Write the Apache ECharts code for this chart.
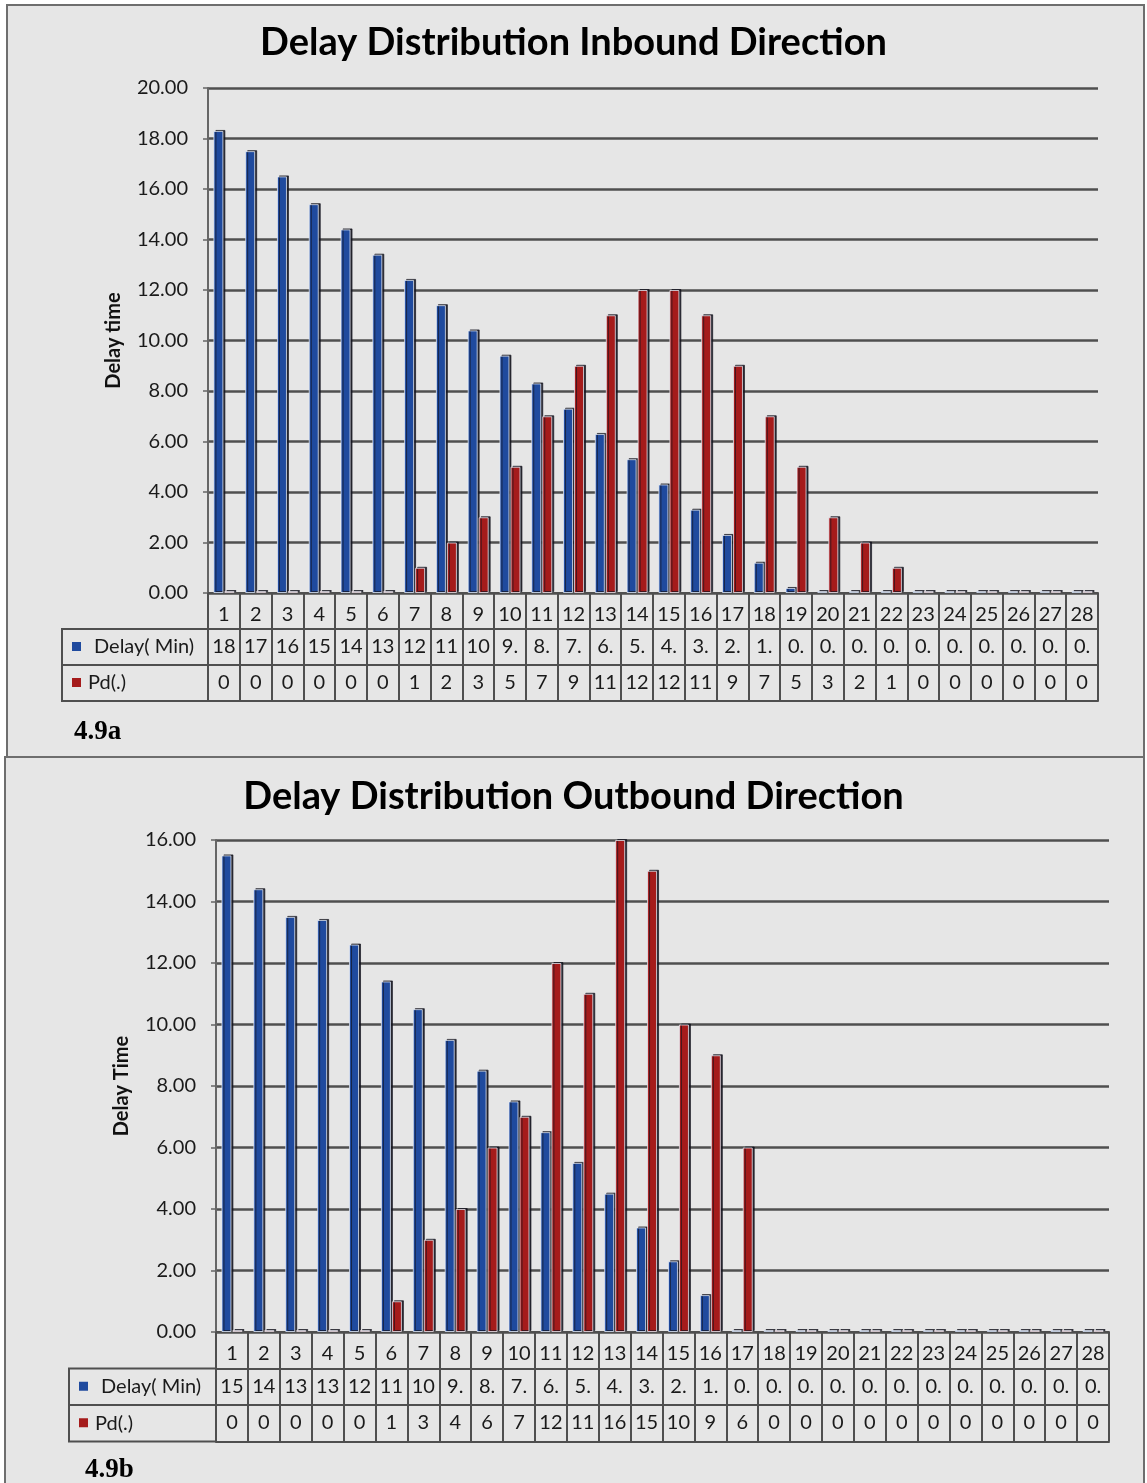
<!DOCTYPE html>
<html>
<head>
<meta charset="utf-8">
<script src="https://cdn.jsdelivr.net/npm/echarts@6/dist/echarts.min.js"></script>
<style>
  html, body { margin: 0; padding: 0; background: #ffffff; }
  #chart { width: 1147px; height: 1483px; }
</style>
</head>
<body>
<div id="chart"></div>
<script>
// ---------------- DATA ----------------
const categories = ['1','2','3','4','5','6','7','8','9','10','11','12','13','14','15','16','17','18','19','20','21','22','23','24','25','26','27','28'];

// 4.9a Inbound
const delayIn = [18.3, 17.5, 16.5, 15.4, 14.4, 13.4, 12.4, 11.4, 10.4, 9.4, 8.3, 7.3, 6.3, 5.3, 4.3, 3.3, 2.3, 1.2, 0.2, 0.02, 0.02, 0.02, 0.02, 0.02, 0.02, 0.02, 0.02, 0.02];
const pdIn = [0, 0, 0, 0, 0, 0, 1, 2, 3, 5, 7, 9, 11, 12, 12, 11, 9, 7, 5, 3, 2, 1, 0, 0, 0, 0, 0, 0];

// 4.9b Outbound
const delayOut = [15.5, 14.4, 13.5, 13.4, 12.6, 11.4, 10.5, 9.5, 8.5, 7.5, 6.5, 5.5, 4.5, 3.4, 2.3, 1.2, 0.05, 0.02, 0.02, 0.02, 0.02, 0.02, 0.02, 0.02, 0.02, 0.02, 0.02, 0.02];
const pdOut = [0, 0, 0, 0, 0, 1, 3, 4, 6, 7, 12, 11, 16, 15, 10, 9, 6, 0, 0, 0, 0, 0, 0, 0, 0, 0, 0, 0];

const seriesNames = ['Delay( Min)', 'Pd(.)'];
const titles = ['Delay Distribution Inbound Direction', 'Delay Distribution Outbound Direction'];
const yNames = ['Delay time', 'Delay Time'];
const captions = ['4.9a', '4.9b'];
const yMaxes = [20, 16];
const yStep = 2;

// ---------------- STYLE / LAYOUT ----------------
const W = 1147, H = 1483;
const BLUE = '#1f4a9e', RED = '#a51b1b';
const LINE = '#4f4f4f';
const FONT = 'Lato, "Open Sans", sans-serif';
const TXT = '#1a1a1a';

const panels = [
  { box: [7, 5, 1144, 757], left: 208, right: 1098, top: 88, bottom: 593, rowH: 36, colL: 62,
    titleTop: 19, nameGap: 84, cap: [74, 732] },
  { box: [5, 757, 1144, 1490], left: 216, right: 1109, top: 840, bottom: 1332, rowH: 36.5, colL: 69,
    titleTop: 773, nameGap: 84, cap: [85, 1470] }
];
const dataSets = [[delayIn, pdIn], [delayOut, pdOut]];

const option = {
  backgroundColor: '#ffffff',
  animation: false,
  title: [], grid: [], xAxis: [], yAxis: [], series: [], graphic: []
};

function trunc(v) { return String(v).slice(0, 2); }

panels.forEach((p, g) => {
  const [dly, pd] = dataSets[g];
  // background box
  option.graphic.push({
    type: 'rect', z: -10, silent: true,
    shape: { x: p.box[0], y: p.box[1], width: p.box[2] - p.box[0], height: p.box[3] - p.box[1] },
    style: { fill: '#e6e6e6', stroke: '#6e6e6e', lineWidth: 2 }
  });
  option.title.push({
    text: titles[g], left: 'center', top: p.titleTop,
    textStyle: { fontFamily: FONT, fontWeight: 'bold', fontSize: 38, color: '#000' }
  });
  option.grid.push({ left: p.left, width: p.right - p.left, top: p.top, height: p.bottom - p.top, containLabel: false });

  const rowFmt = [
    (v) => v,
    (v, i) => trunc(dly[i]),
    (v, i) => trunc(pd[i])
  ];
  for (let k = 0; k < 3; k++) {
    option.xAxis.push({
      gridIndex: g, type: 'category', data: categories, position: 'bottom', offset: k * p.rowH,
      axisLine: { show: true, lineStyle: { color: LINE, width: 2 } },
      axisTick: { show: true, interval: 0, length: p.rowH, lineStyle: { color: LINE, width: 2 } },
      axisLabel: { interval: 0, margin: k === 0 ? 12 : 8, fontSize: 20, fontFamily: FONT, color: TXT, formatter: rowFmt[k] },
      splitLine: { show: false }
    });
  }
  // bottom border of table
  option.xAxis.push({
    gridIndex: g, type: 'category', data: categories, position: 'bottom', offset: 3 * p.rowH,
    axisLine: { show: true, lineStyle: { color: LINE, width: 2 } },
    axisTick: { show: false }, axisLabel: { show: false }, splitLine: { show: false }
  });
  const xBase = option.xAxis.length - 4;

  option.yAxis.push({
    gridIndex: g, type: 'value', min: 0, max: yMaxes[g], interval: yStep,
    name: yNames[g], nameLocation: 'middle', nameGap: p.nameGap, nameRotate: 90,
    nameTextStyle: { fontFamily: FONT, fontWeight: 'bold', fontSize: 20, color: '#111' },
    axisLine: { show: true, lineStyle: { color: '#666', width: 2 } },
    axisTick: { show: true, length: 5, lineStyle: { color: '#666', width: 1.5 } },
    axisLabel: { formatter: (v) => v.toFixed(2), fontSize: 20, fontFamily: FONT, color: TXT, margin: 20 },
    splitLine: { show: true, lineStyle: { color: LINE, width: 2.5 } }
  });

  const barStyle = (c) => ({
    color: c, borderColor: 'rgba(235,240,250,0.75)', borderWidth: 1,
    shadowColor: 'rgba(20,20,30,0.9)', shadowOffsetX: 2, shadowOffsetY: -1, shadowBlur: 0
  });
  option.series.push({
    type: 'bar', name: seriesNames[0], xAxisIndex: xBase, yAxisIndex: g, data: dly,
    barWidth: 10, barGap: '10%', barMinHeight: 2, itemStyle: barStyle(BLUE)
  });
  option.series.push({
    type: 'bar', name: seriesNames[1], xAxisIndex: xBase, yAxisIndex: g, data: pd,
    barWidth: 10, barGap: '10%', barMinHeight: 2, itemStyle: barStyle(RED)
  });

  // legend column of the data table
  const y1 = p.bottom + p.rowH, y2 = p.bottom + 2 * p.rowH, y3 = p.bottom + 3 * p.rowH;
  option.graphic.push({
    type: 'rect', silent: true, z: 5,
    shape: { x: p.colL, y: y1, width: p.left - p.colL, height: y3 - y1 },
    style: { fill: 'none', stroke: LINE, lineWidth: 2 }
  });
  option.graphic.push({
    type: 'line', silent: true, z: 5,
    shape: { x1: p.colL, y1: y2, x2: p.left, y2: y2 },
    style: { stroke: LINE, lineWidth: 2 }
  });
  option.graphic.push({
    type: 'rect', silent: true, z: 5,
    shape: { x: p.colL + 10, y: (y1 + y2) / 2 - 5, width: 9, height: 9 },
    style: { fill: BLUE }
  });
  option.graphic.push({
    type: 'text', silent: true, z: 5, x: p.colL + 32, y: (y1 + y2) / 2,
    style: { text: seriesNames[0], font: '20px ' + FONT, fill: TXT, verticalAlign: 'middle' }
  });
  option.graphic.push({
    type: 'rect', silent: true, z: 5,
    shape: { x: p.colL + 10, y: (y2 + y3) / 2 - 5, width: 9, height: 9 },
    style: { fill: RED }
  });
  option.graphic.push({
    type: 'text', silent: true, z: 5, x: p.colL + 26, y: (y2 + y3) / 2,
    style: { text: seriesNames[1], font: '20px ' + FONT, fill: TXT, verticalAlign: 'middle' }
  });
  option.graphic.push({
    type: 'text', silent: true, z: 5, x: p.cap[0], y: p.cap[1],
    style: { text: captions[g], font: 'bold 27px "Liberation Serif", serif', fill: '#000', verticalAlign: 'middle' }
  });
});

const chart = echarts.init(document.getElementById('chart'), null, { renderer: 'canvas', width: W, height: H });
chart.setOption(option);
</script>
</body>
</html>
